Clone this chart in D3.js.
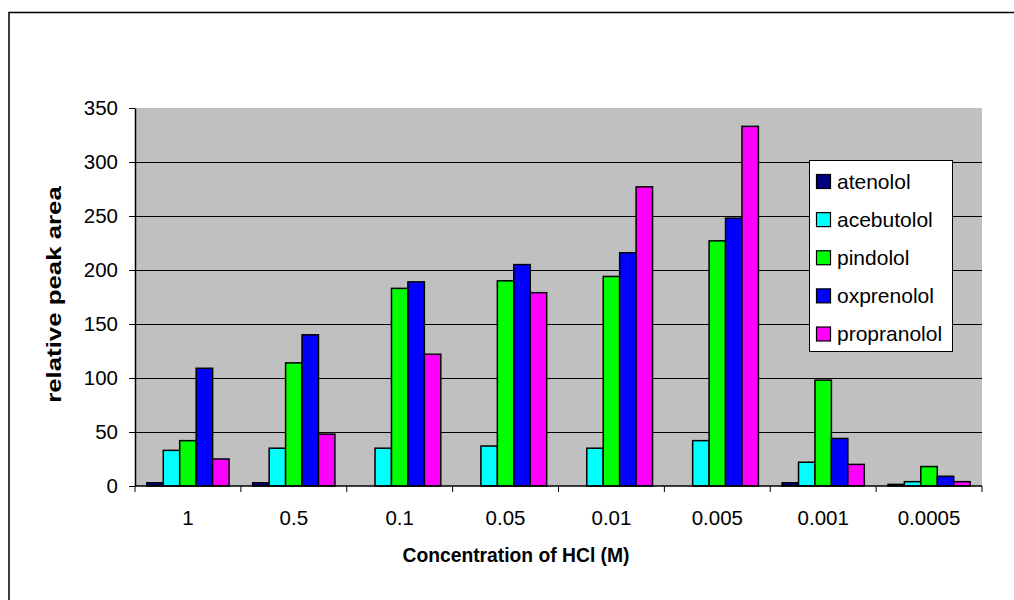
<!DOCTYPE html>
<html>
<head>
<meta charset="utf-8">
<script src="https://cdn.jsdelivr.net/npm/d3@7"></script>
<style>
  html, body { margin: 0; padding: 0; background: #fff; }
  svg { display: block; }
  text { font-family: "Liberation Sans", Arial, sans-serif; fill: #000; }
</style>
</head>
<body>
<svg id="chart" width="1014" height="600"></svg>
<script>
// HCl concentration categories (M)
const categories = ["1", "0.5", "0.1", "0.05", "0.01", "0.005", "0.001", "0.0005"];

// Relative peak areas per beta-blocker
const atenolol    = [3, 3, 0, 0, 0, 0, 3, 1.5];
const acebutolol  = [33, 35, 35, 37, 35, 42, 22, 4];
const pindolol    = [42, 114, 183, 190, 194, 227, 98, 18];
const oxprenolol  = [109, 140, 189, 205, 216, 248, 44, 9];
const propranolol = [25, 48, 122, 179, 277, 333, 20, 4];

const seriesNames  = ["atenolol", "acebutolol", "pindolol", "oxprenolol", "propranolol"];
const seriesValues = [atenolol, acebutolol, pindolol, oxprenolol, propranolol];
const seriesColors = ["#000080", "#00ffff", "#00ff00", "#0000ff", "#ff00ff"];

const yTicks = [0, 50, 100, 150, 200, 250, 300, 350];

const svg = d3.select("#chart");

// chart area frame
svg.append("rect")
  .attr("x", 9).attr("y", 12.5)
  .attr("width", 1100).attr("height", 700)
  .attr("fill", "#fff").attr("stroke", "#000").attr("stroke-width", 1.5);

const plot = { left: 135, right: 982, top: 108, bottom: 486 };

const x0 = d3.scaleBand().domain(categories).range([plot.left, plot.right]).padding(0);
const x1 = d3.scaleBand().domain(seriesNames).range([0, x0.bandwidth()])
  .paddingInner(0).paddingOuter(0.72);
const y = d3.scaleLinear().domain([0, 350]).range([plot.bottom, plot.top]);

// plot background
svg.append("rect")
  .attr("x", plot.left).attr("y", plot.top)
  .attr("width", plot.right - plot.left).attr("height", plot.bottom - plot.top)
  .attr("fill", "#c0c0c0");

// horizontal gridlines
svg.append("g").selectAll("line")
  .data(yTicks.filter(v => v > 0 && v < 350))
  .join("line")
  .attr("x1", plot.left).attr("x2", plot.right)
  .attr("y1", d => Math.round(y(d)) + 0.5).attr("y2", d => Math.round(y(d)) + 0.5)
  .attr("stroke", "#000").attr("stroke-width", 1);

// bars
const rows = categories.map((c, i) => ({
  cat: c,
  vals: seriesNames.map((s, j) => ({ series: s, value: seriesValues[j][i], color: seriesColors[j] }))
}));

const groups = svg.append("g").selectAll("g")
  .data(rows).join("g")
  .attr("transform", d => `translate(${x0(d.cat)},0)`);

groups.selectAll("rect")
  .data(d => d.vals.filter(v => v.value > 0))
  .join("rect")
  .attr("x", d => x1(d.series))
  .attr("y", d => y(d.value))
  .attr("width", x1.bandwidth())
  .attr("height", d => y(0) - y(d.value))
  .attr("fill", d => d.color)
  .attr("stroke", "#000").attr("stroke-width", 1.5);

// y axis
const tickFont = 20.5;
const yAxis = svg.append("g")
  .attr("transform", `translate(${plot.left},0)`)
  .call(d3.axisLeft(y).tickValues(yTicks).tickSizeInner(6).tickSizeOuter(0).tickPadding(11));
yAxis.select(".domain").attr("stroke", "#000").attr("stroke-width", 1.5);
yAxis.selectAll(".tick line").attr("stroke", "#000");
yAxis.selectAll(".tick text")
  .attr("font-size", tickFont)
  .attr("font-family", "Liberation Sans, Arial, sans-serif");

// x axis: labels at category centres, ticks at category boundaries
const xAxis = svg.append("g")
  .attr("transform", `translate(0,${plot.bottom})`)
  .call(d3.axisBottom(x0).tickSize(0).tickPadding(24.5));
xAxis.select(".domain").remove();
xAxis.selectAll(".tick text")
  .attr("font-size", tickFont)
  .attr("font-family", "Liberation Sans, Arial, sans-serif");

svg.append("line")
  .attr("x1", plot.left).attr("x2", plot.right)
  .attr("y1", plot.bottom).attr("y2", plot.bottom)
  .attr("stroke", "#000").attr("stroke-width", 1.5);

const bounds = categories.map(c => x0(c)).concat([x0.range()[1]]);
svg.append("g").selectAll("line")
  .data(bounds).join("line")
  .attr("x1", d => d).attr("x2", d => d)
  .attr("y1", plot.bottom).attr("y2", plot.bottom + 6)
  .attr("stroke", "#000");

// axis titles
svg.append("text")
  .attr("x", 516).attr("y", 562)
  .attr("text-anchor", "middle")
  .attr("font-size", 19.3).attr("font-weight", "bold")
  .text("Concentration of HCl (M)");

svg.append("g")
  .attr("transform", `translate(61,294.5) rotate(-90) scale(1.29,1)`)
  .append("text")
  .attr("text-anchor", "middle")
  .attr("font-size", 20).attr("font-weight", "bold")
  .text("relative peak area");

// legend
const legend = svg.append("g");
legend.append("rect")
  .attr("x", 809.5).attr("y", 160.5)
  .attr("width", 143).attr("height", 191)
  .attr("fill", "#fff").attr("stroke", "#000").attr("stroke-width", 1);

const legendRowY = d3.scalePoint().domain(seriesNames).range([181.5, 334]);
const items = legend.selectAll("g.item")
  .data(seriesNames).join("g").attr("class", "item")
  .attr("transform", d => `translate(816,${legendRowY(d)})`);
items.append("rect")
  .attr("x", 0.5).attr("y", -7)
  .attr("width", 14).attr("height", 14)
  .attr("fill", (d, i) => seriesColors[i])
  .attr("stroke", "#000").attr("stroke-width", 1.2);
items.append("text")
  .attr("x", 21)
  .attr("dy", "0.35em")
  .attr("font-size", 21)
  .text(d => d);
</script>
</body>
</html>
